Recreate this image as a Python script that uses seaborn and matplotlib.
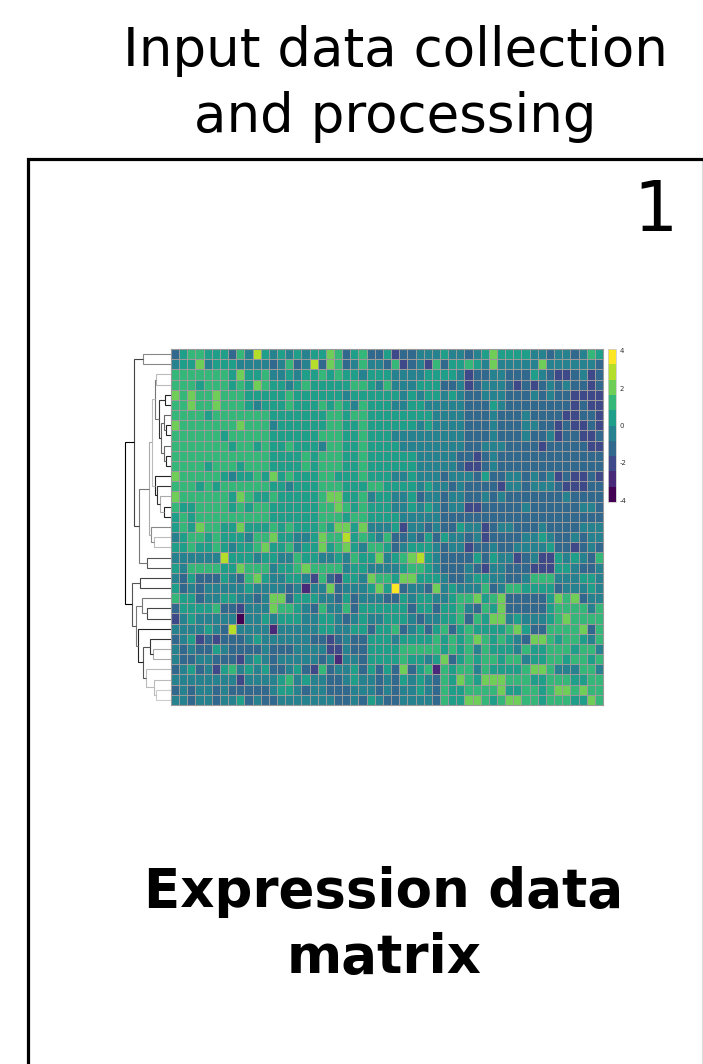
import numpy as np
import seaborn as sns
import matplotlib.pyplot as plt

W, H = 703, 1064

title_lines = ['Input data collection', 'and processing']
panel_number = '1'
caption_lines = ['Expression data', 'matrix']
cbar_ticks = [-4, -2, 0, 2, 4]

# middle value of each of the 10 colour bins
bin_values = [-3.7, -2.9, -2.1, -1.2, -0.4, 0.4, 1.2, 2.1, 2.9, 3.7]

# colour bin read for each cell, split in three column blocks
bins_left = [
    [3,5,6,6,5,5,5,3,6,4,8,5,4,5,4,5,4,5],
    [4,5,5,7,4,5,5,5,4,4,4,4,3,4,6,3,4,8],
    [6,6,6,6,6,6,6,5,7,5,5,6,4,4,5,4,5,5],
    [6,6,6,5,6,6,6,5,6,5,7,6,5,5,4,5,6,5],
    [7,6,7,6,6,7,6,6,6,5,5,5,5,5,6,5,5,5],
    [6,6,7,6,6,7,6,6,6,5,4,5,5,5,6,5,5,5],
    [6,6,6,6,5,6,6,6,6,6,6,6,5,5,5,5,5,5],
    [7,6,6,6,6,6,6,6,7,6,6,6,4,5,5,5,5,5],
    [6,6,6,6,6,6,5,6,6,6,6,6,5,5,5,5,5,5],
    [6,6,6,6,6,6,6,5,6,6,5,6,5,5,6,5,5,5],
    [6,6,6,6,6,6,6,6,6,6,6,6,5,5,5,5,6,5],
    [6,6,6,6,5,6,6,6,5,6,6,6,5,5,5,5,6,5],
    [7,6,6,6,6,6,5,4,5,5,6,5,7,5,6,5,5,5],
    [6,6,6,5,6,5,6,6,6,6,6,6,5,5,4,5,5,5],
    [7,6,6,6,6,6,6,5,7,6,5,5,6,5,5,5,5,5],
    [6,5,5,6,6,6,6,5,6,5,6,6,5,5,5,5,5,5],
    [5,6,5,6,6,6,6,6,6,6,6,6,5,5,5,5,5,5],
    [5,6,5,7,6,6,5,5,7,5,5,5,6,5,6,5,5,5],
    [4,5,6,6,5,6,5,5,5,4,6,6,7,5,5,4,4,5],
    [5,5,6,5,5,6,5,4,5,5,6,7,5,5,6,4,5,5],
    [4,4,4,4,4,4,8,5,5,5,4,5,5,4,4,6,5,5],
    [5,4,6,6,6,6,5,5,7,6,6,6,4,5,5,6,7,6],
    [4,3,5,3,3,3,5,4,3,6,7,5,4,4,5,5,4,2],
    [5,3,4,3,4,4,4,4,4,5,4,4,4,4,3,4,1,4],
    [6,5,5,3,4,4,5,5,4,4,3,4,7,7,3,5,5,5],
    [3,5,5,5,5,6,3,3,2,4,4,4,7,6,6,5,4,3],
    [2,4,5,4,4,4,4,4,0,4,4,5,4,5,5,5,4,4],
    [4,4,4,4,5,4,3,8,4,4,4,4,1,4,4,4,4,4],
    [3,4,5,2,3,2,3,3,3,4,5,4,4,4,4,4,4,3],
    [4,3,4,3,3,5,4,3,3,3,3,4,3,3,3,4,4,4],
    [4,3,3,4,4,3,3,3,2,4,5,4,3,4,4,4,4,4],
    [3,4,5,3,4,2,5,6,4,5,4,5,3,3,4,5,3,2],
    [4,4,4,4,4,4,4,4,2,4,4,4,4,5,6,4,5,4],
    [3,4,3,4,4,3,4,3,3,3,3,3,4,5,5,4,3,4],
    [4,4,3,4,4,3,4,4,5,3,4,3,3,4,4,4,4,4],
]
bins_mid = [
    [5,7,6,3,5,6,3,3,5,2,3,3,4,4,4,5,4,4],
    [3,7,6,3,4,6,4,4,3,6,2,3,4,2,6,3,5,5],
    [6,5,6,5,5,4,5,5,5,4,4,4,4,5,5,5,5,4],
    [5,5,5,5,6,6,5,4,6,4,4,4,5,5,5,3,3,4],
    [5,5,5,4,5,5,5,5,5,5,4,5,4,5,5,4,5,4],
    [6,5,6,5,4,6,5,5,5,4,4,5,5,4,4,4,4,4],
    [5,6,6,5,6,6,5,5,5,5,5,5,5,5,4,4,4,4],
    [5,6,6,5,5,6,5,5,5,5,5,5,4,5,4,4,4,4],
    [6,6,6,5,5,6,5,5,5,4,4,4,4,4,4,4,4,4],
    [4,6,6,5,5,6,5,5,5,5,4,4,4,4,4,4,4,4],
    [6,6,6,5,5,6,5,5,5,5,5,5,4,4,4,4,4,3],
    [6,6,6,5,5,6,5,5,5,5,5,5,4,4,4,4,4,3],
    [6,6,5,5,5,6,5,5,5,4,4,5,4,4,4,3,4,4],
    [6,6,6,5,5,5,6,6,5,5,5,5,4,5,4,4,3,4],
    [6,7,7,5,5,6,4,5,5,4,4,5,3,4,4,3,4,4],
    [6,6,7,6,5,6,5,5,5,4,4,5,4,5,4,3,4,4],
    [6,6,6,5,6,6,5,5,5,5,4,4,4,4,4,3,3,3],
    [6,5,7,7,5,7,4,4,4,5,2,4,4,3,4,3,3,5],
    [7,6,6,8,5,6,5,4,6,3,3,4,3,5,3,5,4,4],
    [7,5,6,7,5,4,6,6,5,3,4,5,5,5,4,3,4,4],
    [4,4,5,4,6,5,5,7,4,5,6,7,8,5,4,3,3,3],
    [6,6,6,4,5,5,4,4,4,4,5,6,6,5,4,3,3,3],
    [6,3,2,5,5,4,7,6,6,5,7,7,5,5,5,4,3,3],
    [4,7,3,4,4,4,5,7,5,9,3,4,4,3,7,4,5,4],
    [4,4,3,5,3,4,4,4,3,3,5,4,5,5,4,4,5,6],
    [6,4,4,6,3,5,5,5,5,5,5,3,5,5,3,5,5,6],
    [5,5,4,3,4,5,4,4,5,5,5,4,3,4,4,5,5,6],
    [5,5,4,4,5,5,3,5,5,6,3,4,5,3,5,6,3,5],
    [3,2,3,4,3,3,5,5,5,4,5,5,5,5,6,5,6,5],
    [4,2,2,4,3,3,5,5,5,5,6,6,6,6,6,5,6,5],
    [3,4,1,4,4,3,5,5,5,5,6,5,5,4,5,7,3,5],
    [6,3,4,4,5,3,5,3,5,3,7,3,5,6,1,6,5,6],
    [4,3,3,4,5,4,4,3,4,3,5,4,5,4,3,6,5,7],
    [4,3,3,3,4,4,4,3,4,3,4,4,5,4,3,6,5,5],
    [4,4,3,3,4,3,5,4,3,3,4,4,4,4,3,6,5,5],
]
bins_right = [
    [3,4,5,7,5,5,5,5,4,4,3,4,4,3,4,6,5],
    [6,5,4,7,4,4,4,4,4,7,4,4,4,4,4,4,3],
    [2,3,3,4,4,3,3,3,5,4,3,2,2,3,4,2,3],
    [2,3,4,4,4,3,2,3,2,3,4,3,4,3,3,2,3],
    [3,3,4,4,4,3,3,3,4,3,4,3,3,2,2,2,2],
    [3,3,3,5,4,3,3,3,3,3,3,3,3,2,3,2,2],
    [3,3,3,4,3,3,3,4,3,3,3,3,2,2,3,3,2],
    [3,3,3,4,3,3,3,4,4,3,3,2,3,2,2,3,2],
    [3,3,3,4,3,3,3,4,3,3,4,2,3,3,2,2,3],
    [3,3,4,4,4,3,3,3,3,2,3,3,3,3,3,2,2],
    [3,2,3,4,3,3,3,3,3,3,3,3,3,3,3,3,3],
    [2,2,3,4,3,3,3,3,3,3,3,3,3,3,3,3,3],
    [4,3,5,3,3,4,4,3,4,3,4,2,3,2,2,3,2],
    [3,3,3,3,2,4,4,3,4,4,4,3,2,2,2,3,3],
    [3,3,4,3,4,3,3,3,3,3,3,3,4,3,3,3,3],
    [2,2,3,3,3,3,3,4,3,3,3,3,3,3,4,4,3],
    [3,3,3,3,3,3,3,3,3,3,3,3,3,3,3,3,3],
    [4,4,2,3,4,4,3,3,3,4,3,3,3,3,4,4,4],
    [3,4,2,3,3,3,3,4,4,5,4,3,3,4,3,4,4],
    [2,3,3,4,3,3,4,4,4,4,5,3,3,2,3,4,3],
    [3,5,3,5,4,4,2,3,4,2,2,5,4,5,4,3,6],
    [4,3,2,4,4,3,3,3,2,2,2,5,5,4,3,3,4],
    [4,5,5,4,4,3,3,4,6,6,6,4,4,4,5,5,4],
    [4,4,6,3,4,6,6,5,5,5,5,3,4,4,4,5,4],
    [6,7,5,6,7,3,3,3,3,3,5,7,6,7,3,4,4],
    [4,3,6,5,7,3,3,3,3,3,5,6,6,6,6,4,6],
    [3,6,5,7,7,4,5,4,4,4,5,6,7,6,6,6,6],
    [6,5,5,5,5,6,7,5,3,3,6,6,6,6,7,3,6],
    [6,7,6,5,6,5,4,3,7,7,6,5,6,6,5,4,6],
    [6,4,6,5,5,5,4,6,5,5,6,6,6,5,6,6,4],
    [6,5,6,6,5,6,6,4,5,5,6,6,5,6,6,5,6],
    [6,4,6,5,5,5,5,6,7,7,6,4,4,4,6,6,4],
    [6,5,7,7,7,6,6,6,5,5,6,6,6,5,5,6,6],
    [6,6,6,6,7,5,5,6,6,5,6,7,7,6,7,6,6],
    [7,7,6,5,6,7,7,6,6,5,6,6,6,5,5,7,6],
]

# row dendrogram: (height, grey, child, child), a leaf is a row number
tree_top = (27.7, '#888888', 0, 1)
tree_rows_2_11 = (15.7, '#777777',
                  (15.0, '#bbbbbb', 2, 3),
                  (12.3, '#333333',
                   (6.0, '#222222', 4, 5),
                   (10.0, '#666666',
                    (6.7, '#666666', 6, (5.0, '#222222', 7, 8)),
                    (7.3, '#666666', 9, (5.0, '#222222', 10, 11)))))
tree_rows_12_16 = (16.0, '#222222', 12,
                   (14.3, '#333333', 13,
                    (10.7, '#aaaaaa', 14, (6.7, '#222222', 15, 16))))
tree_rows_17_19 = (20.0, '#888888', 17, (17.3, '#bbbbbb', 18, 19))
tree_upper = (37.3, '#444444', tree_top,
              (32.3, '#777777',
               (21.7, '#aaaaaa',
                (19.3, '#bbbbbb', tree_rows_2_11, tree_rows_12_16),
                tree_rows_17_19),
               (24.3, '#555555', 20, 21)))
tree_lower = (39.3, '#555555',
              (31.0, '#444444', 22, 23),
              (35.0, '#777777',
               (29.0, '#777777', 24, (24.0, '#444444', 25, 26)),
               (33.3, '#222222', 27,
                (27.7, '#555555',
                 (21.0, '#333333', 28, (18.3, '#aaaaaa', 29, 30)),
                 (25.0, '#bbbbbb', 31,
                  (17.3, '#bbbbbb', 32, (15.0, '#cccccc', 33, 34)))))))
tree_root = (46.3, '#000000', tree_upper, tree_lower)


def px_axes(fig, x0, y0, x1, y1, **kw):
    return fig.add_axes([x0 / W, 1 - y1 / H, (x1 - x0) / W, (y1 - y0) / H], **kw)


def draw_tree(ax, node):
    # returns (height, y position) of the node
    if not isinstance(node, tuple):
        return 0, node + 0.5
    h, grey, left, right = node
    hl, yl = draw_tree(ax, left)
    hr, yr = draw_tree(ax, right)
    ax.plot([hl, h, h, hr], [yl, yl, yr, yr], color=grey, lw=0.8,
            solid_joinstyle='miter', solid_capstyle='butt')
    return h, (yl + yr) / 2


expr = np.array(bin_values)[np.hstack([bins_left, bins_mid, bins_right])]

plt.rcParams['axes.unicode_minus'] = False
fig = plt.figure(figsize=(W / 100, H / 100), dpi=100, facecolor='white')
bg = px_axes(fig, 0, 0, W, H)
bg.set_xlim(0, W)
bg.set_ylim(H, 0)
bg.axis('off')

# Panel frame:
bg.plot([702, 702], [160, H], color='#dddddd', lw=0.9)
bg.plot([27.5, 27.5, W], [H, 158.5, 158.5], color='black', lw=2.3,
        solid_joinstyle='miter')

# Texts:
bg.text(395, 66, title_lines[0], ha='center', va='baseline', fontsize=38.2)
bg.text(395, 132, title_lines[1], ha='center', va='baseline', fontsize=38.2)
bg.text(655, 231, panel_number, ha='center', va='baseline', fontsize=50)
bg.text(384, 907, caption_lines[0], ha='center', va='baseline', fontsize=38.2, fontweight='bold')
bg.text(384, 973, caption_lines[1], ha='center', va='baseline', fontsize=38.2, fontweight='bold')

# Heatmap with its colour bar:
ax = px_axes(fig, 171, 349, 603, 705)
cax = px_axes(fig, 607.5, 349, 616, 502)
sns.heatmap(expr, ax=ax, cbar_ax=cax, cmap=plt.get_cmap('viridis', 10),
            vmin=-4.1, vmax=4.1, linewidths=0.45, linecolor='#9a9a9a',
            xticklabels=False, yticklabels=False,
            cbar_kws={'ticks': cbar_ticks})
for side in ax.spines.values():
    side.set_visible(True)
    side.set_color('#9a9a9a')
    side.set_linewidth(0.8)
cax.tick_params(length=0, labelsize=5, pad=2.5, colors='#333333')
cbar = ax.collections[0].colorbar
cbar.outline.set_visible(True)
cbar.outline.set_edgecolor('#cccccc')
cbar.outline.set_linewidth(0.6)

# Row dendrogram:
dax = px_axes(fig, 120, 349, 171, 705)
draw_tree(dax, tree_root)
dax.set_xlim(51, 0)
dax.set_ylim(len(expr), 0)
dax.axis('off')

fig.savefig('out.png', dpi=100, facecolor='white')
